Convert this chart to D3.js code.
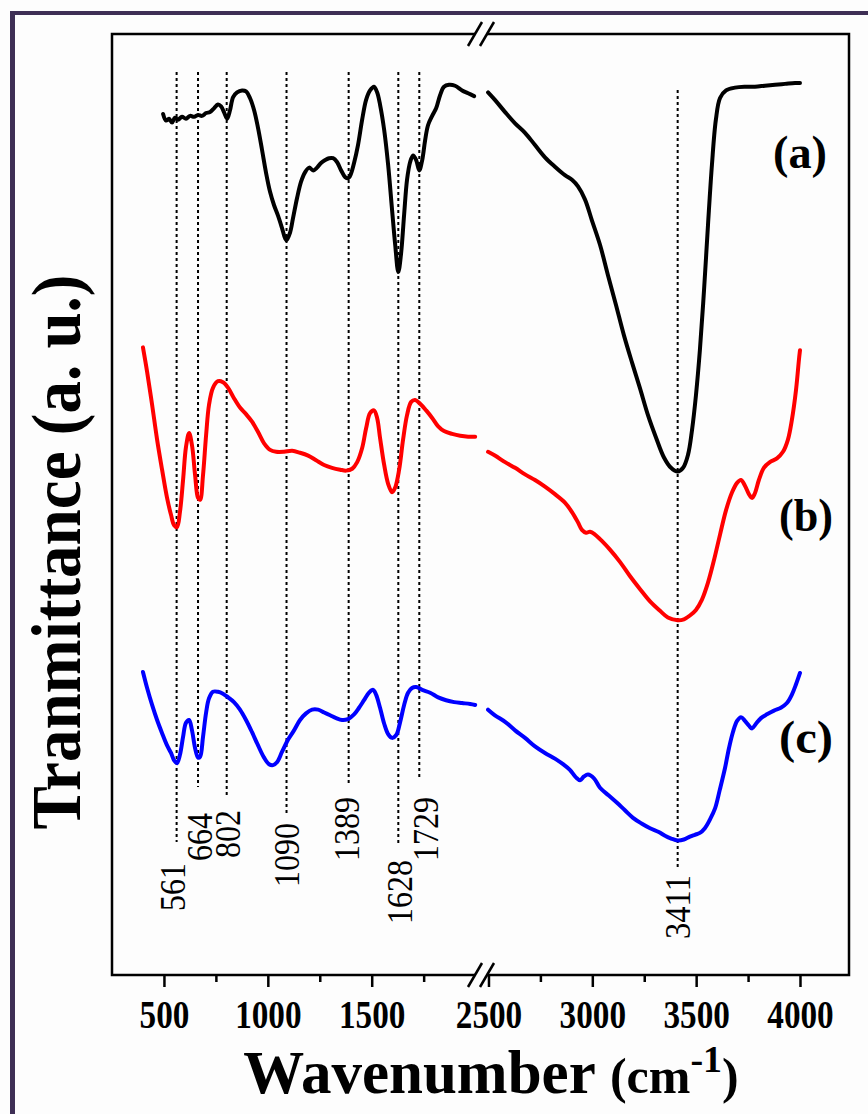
<!DOCTYPE html>
<html>
<head>
<meta charset="utf-8">
<script src="https://cdn.jsdelivr.net/npm/d3@7"></script>
<style>
  html, body { margin: 0; padding: 0; background: #fdfdfd; }
  svg { display: block; }
</style>
</head>
<body>
<svg id="chart" width="868" height="1114"></svg>
<script>
// ---------- FTIR spectra (wavenumber in cm^-1, transmittance in a.u.) ----------
const waveA = [496,510,524,539,553,568,587,606,626,645,664,683,703,722,741,760,775,789,804,818,
  833,852,876,895,914,934,953,972,991,1011,1030,1049,1068,1083,1090,1107,1121,1141,1160,1179,
  1199,1218,1237,1256,1276,1295,1314,1333,1353,1372,1389,1401,1415,1434,1454,1473,1492,1511,1526,1540,
  1560,1579,1598,1613,1628,1641,1656,1670,1685,1699,1714,1729,1743,1757,1771,1791,1810,1829,1848,1872,
  1901,1935,1964,1993,
  2498,2531,2580,2628,2676,2724,2772,2820,2868,2902,2931,2965,2998,3037,3075,3114,3152,3191,3229,3268,
  3307,3345,3379,3411,3437,3461,3480,3499,3518,3538,3557,3576,3595,3615,3644,3687,3735,3783,3831,3880,
  3928,3976,4000];
const transA = [91.5,90.8,91.0,90.6,91.1,90.9,91.2,91.0,91.3,91.2,91.4,91.3,91.6,91.7,92.1,92.5,92.3,91.7,91.0,91.9,
  93.3,93.8,94.0,93.9,93.2,91.9,90.0,87.7,85.3,83.2,81.8,80.7,79.4,78.3,78.1,78.9,80.4,82.6,84.3,85.3,
  85.8,85.5,85.8,86.3,86.6,86.8,86.8,86.4,85.5,84.8,84.7,85.2,86.3,88.2,90.9,93.0,94.0,94.4,93.8,92.5,
  89.8,86.1,81.3,77.6,74.7,76.6,80.8,84.5,86.4,87.1,86.6,85.5,86.6,88.7,90.3,91.3,92.1,93.5,94.4,94.6,
  94.5,94.0,93.7,93.4,
  93.8,93.0,91.7,90.5,89.5,88.2,86.9,85.9,85.0,84.5,83.8,82.4,80.2,77.6,74.4,71.2,68.0,65.1,62.4,59.5,
  57.1,55.0,53.9,53.5,53.9,55.3,57.9,61.6,66.4,72.8,79.7,86.1,90.9,93.2,94.0,94.3,94.4,94.4,94.5,94.6,
  94.7,94.8,94.8];

const waveB = [399,419,443,467,491,515,534,549,563,577,592,606,621,635,650,664,674,688,703,717,
  736,760,784,809,837,866,895,924,953,982,1011,1040,1078,1117,1155,1194,1232,1271,1309,1348,
  1377,1406,1430,1454,1473,1492,1511,1526,1540,1560,1579,1598,1613,1632,1651,1670,1690,1709,1733,1762,
  1791,1820,1848,1887,1926,1964,1998,
  2498,2531,2580,2628,2676,2724,2772,2820,2868,2902,2931,2950,2970,2989,3013,3047,3085,3133,3181,3230,
  3278,3326,3364,3411,3441,3470,3499,3528,3557,3586,3615,3644,3673,3697,3716,3735,3754,3769,3783,3802,
  3826,3855,3889,3918,3942,3961,3981,3995,4000];
const transB = [66.7,64.1,60.6,56.9,53.7,50.7,48.9,47.8,47.6,49.2,52.6,56.1,57.6,56.3,53.1,50.7,50.5,53.1,57.4,60.6,
  62.4,63.1,63.0,62.4,61.3,60.3,59.6,58.8,57.7,56.5,55.8,55.6,55.6,55.7,55.5,55.2,54.7,54.2,53.9,53.7,
  53.6,53.8,54.5,56.0,58.1,59.7,60.0,59.2,57.1,54.2,52.2,51.3,51.8,53.7,56.9,59.5,60.9,61.1,60.7,60.0,
  59.2,58.3,57.8,57.5,57.3,57.2,57.2,
  55.6,55.2,54.5,53.9,53.2,52.6,51.9,51.1,50.2,49.2,48.1,47.3,47.0,47.1,46.8,46.1,45.2,43.9,42.4,41.0,
  39.7,38.7,38.0,37.7,37.8,38.2,38.8,39.9,41.7,44.1,46.8,49.4,51.3,52.3,52.6,52.0,51.1,50.7,51.2,52.6,
  53.9,54.5,54.9,55.6,56.9,59.0,62.2,65.4,66.4];

const waveC = [399,419,443,467,491,515,534,549,563,577,592,606,621,635,650,664,674,688,703,717,
  736,760,784,809,837,866,895,924,953,982,1006,1025,1044,1068,1097,1126,1155,1184,1213,1242,
  1271,1300,1329,1357,1386,1415,1439,1463,1487,1507,1521,1540,1560,1579,1598,1618,1637,1656,1675,1694,
  1714,1743,1781,1820,1858,1897,1935,1974,1998,
  2498,2531,2580,2628,2676,2724,2772,2820,2859,2892,2921,2941,2960,2979,3008,3037,3078,3119,3157,3196,
  3237,3278,3320,3350,3380,3411,3441,3470,3494,3518,3542,3566,3591,3614,3639,3658,3677,3697,3716,3735,
  3754,3769,3788,3812,3841,3875,3908,3937,3961,3981,4000];
const transC = [32.2,30.5,28.7,27.1,25.7,24.4,23.6,22.8,22.5,23.4,25.3,26.8,27.1,26.0,24.1,23.1,23.2,25.3,27.9,29.4,
  30.1,30.1,29.9,29.5,29.0,28.2,27.1,25.8,24.4,23.1,22.4,22.3,22.6,23.7,25.0,26.0,27.1,27.8,28.2,28.2,
  27.9,27.6,27.3,27.1,27.2,27.7,28.4,29.2,30.0,30.3,29.8,28.4,26.7,25.6,25.2,25.5,26.9,28.7,30.0,30.5,
  30.6,30.3,30.0,29.5,29.2,29.0,28.9,28.8,28.7,
  28.2,27.6,26.9,26.0,25.2,24.3,23.6,23.0,22.4,21.8,21.0,20.7,21.1,21.3,20.9,19.9,19.1,18.3,17.5,16.7,
  16.1,15.6,15.2,14.8,14.5,14.3,14.4,14.7,14.9,15.1,15.6,16.5,17.7,19.7,22.0,24.1,25.8,27.0,27.4,27.0,
  26.5,26.2,26.7,27.3,27.7,28.1,28.4,28.9,29.8,30.9,32.1];

const seriesNames = ["(a)", "(b)", "(c)"];
const seriesColors = ["#000000", "#ff0000", "#0000ff"];

// Marked band positions (cm^-1)
const peaks = [561, 664, 802, 1090, 1389, 1628, 1729, 3411];
const peakLabels = ["561", "664", "802", "1090", "1389", "1628", "1729", "3411"];

// Axis ticks
const ticksLeft = [500, 1000, 1500];
const ticksRight = [2500, 3000, 3500, 4000];
const minorLeft = [750, 1250, 1750];
const minorRight = [2750, 3250, 3750];

// ---------- layout ----------
const plot = { left: 112, right: 849, top: 34, bottom: 975, brk: 481 };
const leftDomain = [250, 2026];
const rightDomain = [2464, 4236];

// dotted guide line extents and label placement per peak (pixels)
const guideTop = [72, 72, 72, 72, 72, 72, 72, 90];
const guideBottom = [842, 787, 797, 815, 785, 843, 777, 868];
const labelTop = [863, 813, 810, 823, 797, 860, 797, 875];
const labelDx = [-4, 2, 1, 0, -2, 2, 7, 0];

const FONT = "'Liberation Serif','Times New Roman',Times,serif";

const svg = d3.select("#chart");

// page frame accent (top and left)
svg.append("rect").attr("x", 10).attr("y", 11).attr("width", 858).attr("height", 4).attr("fill", "#3e2f55");
svg.append("rect").attr("x", 10).attr("y", 11).attr("width", 5).attr("height", 1103).attr("fill", "#3e2f55");

const xL = d3.scaleLinear().domain(leftDomain).range([plot.left, plot.brk]);
const xR = d3.scaleLinear().domain(rightDomain).range([plot.brk, plot.right]);
const y = d3.scaleLinear().domain([0, 100]).range([plot.bottom, plot.top]);
const xAt = w => (w <= leftDomain[1] ? xL(w) : xR(w));

// dotted guides
const guides = svg.append("g");
peaks.forEach((p, i) => {
  const gx = xAt(p);
  guides.append("line")
    .attr("x1", gx).attr("x2", gx)
    .attr("y1", guideTop[i]).attr("y2", guideBottom[i])
    .attr("stroke", "#000").attr("stroke-width", 2)
    .attr("stroke-dasharray", "3,3");
});

// spectra
const line = d3.line()
  .x(d => xAt(d[0]))
  .y(d => y(d[1]))
  .curve(d3.curveCatmullRom.alpha(0.5));

const spectra = [[waveA, transA], [waveB, transB], [waveC, transC]];
spectra.forEach(([w, t], i) => {
  const pts = w.map((v, k) => [v, t[k]]);
  const seg1 = pts.filter(d => d[0] <= leftDomain[1]);
  const seg2 = pts.filter(d => d[0] >= rightDomain[0]);
  [seg1, seg2].forEach(seg => {
    svg.append("path")
      .attr("d", line(seg))
      .attr("fill", "none")
      .attr("stroke", seriesColors[i])
      .attr("stroke-width", 4)
      .attr("stroke-linejoin", "round")
      .attr("stroke-linecap", "round");
  });
});

// plot frame
svg.append("rect")
  .attr("x", plot.left).attr("y", plot.top)
  .attr("width", plot.right - plot.left).attr("height", plot.bottom - plot.top)
  .attr("fill", "none").attr("stroke", "#000").attr("stroke-width", 2.5);

// bottom axis: major and minor ticks on both segments
function drawAxis(scale, majors, minors) {
  const g = svg.append("g").attr("transform", `translate(0,${plot.bottom})`);
  g.call(d3.axisBottom(scale).tickValues(majors).tickSize(12).tickSizeOuter(0).tickFormat(d3.format("d")));
  g.select(".domain").remove();
  g.selectAll(".tick line").attr("stroke", "#000").attr("stroke-width", 2.5);
  g.selectAll(".tick text")
    .attr("y", 53).attr("dy", 0)
    .attr("font-family", FONT).attr("font-weight", "bold").attr("font-size", 40)
    .attr("textLength", d => String(d).length * 16.6)
    .attr("lengthAdjust", "spacingAndGlyphs")
    .attr("fill", "#000");
  const gm = svg.append("g").attr("transform", `translate(0,${plot.bottom})`);
  gm.call(d3.axisBottom(scale).tickValues(minors).tickSize(7).tickSizeOuter(0).tickFormat(""));
  gm.select(".domain").remove();
  gm.selectAll(".tick line").attr("stroke", "#000").attr("stroke-width", 2.5);
}
drawAxis(xL, ticksLeft, minorLeft);
drawAxis(xR, ticksRight, minorRight);

// axis break marks on top and bottom edges
[plot.top, plot.bottom].forEach(ey => {
  svg.append("rect").attr("x", plot.brk - 6).attr("y", ey - 3).attr("width", 12).attr("height", 6).attr("fill", "#fdfdfd");
  [-6, 6].forEach(off => {
    svg.append("line")
      .attr("x1", plot.brk + off - 7).attr("y1", ey + 12)
      .attr("x2", plot.brk + off + 7).attr("y2", ey - 12)
      .attr("stroke", "#000").attr("stroke-width", 2.5);
  });
});

// peak labels (rotated)
peaks.forEach((p, i) => {
  const lx = xAt(p) + labelDx[i] + 12;
  svg.append("text")
    .attr("transform", `translate(${lx},${labelTop[i]}) rotate(-90)`)
    .attr("text-anchor", "end")
    .attr("font-family", FONT).attr("font-size", 35).attr("fill", "#000")
    .attr("textLength", peakLabels[i].length * 16)
    .attr("lengthAdjust", "spacingAndGlyphs")
    .text(peakLabels[i]);
});

// series labels
const seriesLabelPos = [[773, 168], [779, 531], [779, 753]];
seriesNames.forEach((n, i) => {
  svg.append("text")
    .attr("x", seriesLabelPos[i][0]).attr("y", seriesLabelPos[i][1])
    .attr("font-family", FONT).attr("font-weight", "bold").attr("font-size", 47)
    .attr("textLength", 54).attr("lengthAdjust", "spacingAndGlyphs")
    .attr("fill", "#000").text(n);
});

// axis titles
svg.append("text")
  .attr("transform", "translate(80,552) rotate(-90)")
  .attr("text-anchor", "middle")
  .attr("font-family", FONT).attr("font-weight", "bold").attr("font-size", 70)
  .attr("textLength", 555).attr("lengthAdjust", "spacingAndGlyphs")
  .attr("fill", "#000")
  .text("Tranmittance (a. u.)");

const xt = svg.append("text")
  .attr("x", 491).attr("y", 1093)
  .attr("text-anchor", "middle")
  .attr("font-family", FONT).attr("font-weight", "bold").attr("fill", "#000");
xt.append("tspan").attr("font-size", 61).text("Wavenumber ");
xt.append("tspan").attr("font-size", 50).text("(cm");
xt.append("tspan").attr("font-size", 38).attr("dy", -21).text("-1");
xt.append("tspan").attr("font-size", 50).attr("dy", 21).text(")");
</script>
</body>
</html>
